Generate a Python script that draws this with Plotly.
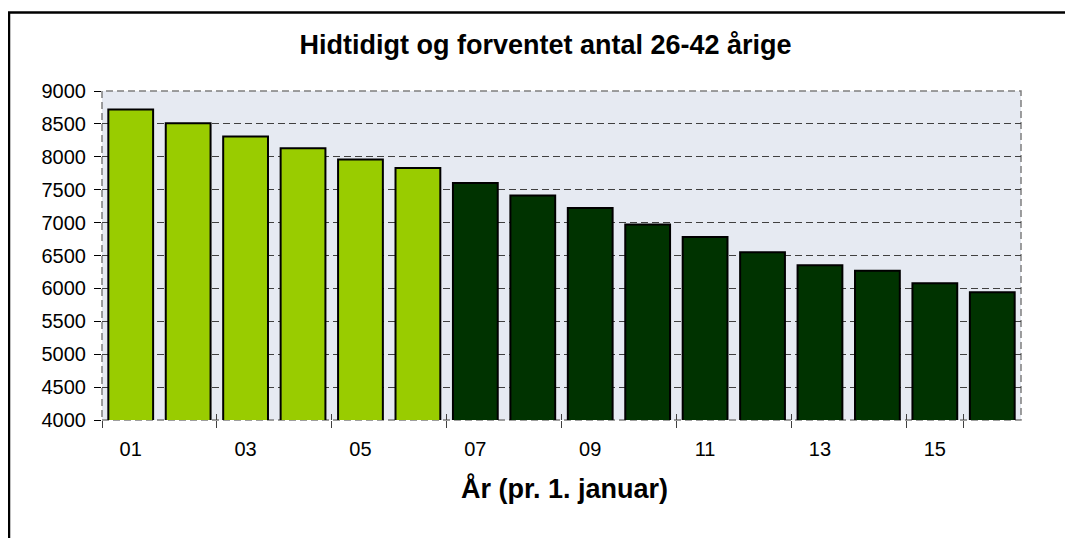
import plotly.graph_objects as go

years = ["01", "02", "03", "04", "05", "06", "07", "08",
         "09", "10", "11", "12", "13", "14", "15", "16"]
values = [8720, 8510, 8310, 8130, 7960, 7830, 7600, 7410,
          7220, 6970, 6780, 6550, 6350, 6270, 6080, 5940]
n_hist = 6  # historical years (01-06); the rest are forecasts

title = "Hidtidigt og forventet antal 26-42 årige"
x_title = "År (pr. 1. januar)"
y_ticks = list(range(4000, 9001, 500))
x_ticks = years[::2]

FONT = "Liberation Sans, Arial, sans-serif"

fig = go.Figure()
fig.add_trace(go.Bar(
    x=years[:n_hist], y=values[:n_hist], name="Hidtidigt",
    marker=dict(color="#99CC00", line=dict(color="#000000", width=2)),
))
fig.add_trace(go.Bar(
    x=years[n_hist:], y=values[n_hist:], name="Forventet",
    marker=dict(color="#003300", line=dict(color="#000000", width=2)),
))
# invisible helper trace so the overlay axis (inner half of crossing ticks) has categories
fig.add_trace(go.Scatter(
    x=years, y=values, xaxis="x2", mode="markers",
    marker=dict(opacity=0), hoverinfo="skip", showlegend=False,
))

# page body has an 8px margin, so the figure is 8px smaller than the window
W, H = 1065, 530
L, R, T, B = 94, 52, 83, 118
pw, ph = W - L - R, H - T - B

fig.update_layout(
    width=W, height=H,
    margin=dict(l=L, r=R, t=T, b=B, autoexpand=False),
    paper_bgcolor="white",
    plot_bgcolor="#E6EAF2",
    barmode="overlay",
    bargap=0.22,
    showlegend=False,
    font=dict(family=FONT, color="#000000"),
    title=dict(text="<b>" + title + "</b>", x=537.5 / W, xanchor="center",
               y=1 - 37 / H, yanchor="middle", yref="container",
               font=dict(size=27, family=FONT, color="#000000")),
)

fig.update_xaxes(
    type="category",
    categoryorder="array", categoryarray=years,
    tickmode="array", tickvals=x_ticks, ticktext=x_ticks,
    tickson="boundaries",
    ticks="outside", ticklen=7, tickwidth=1, tickcolor="#404040",
    ticklabelstandoff=15,
    tickfont=dict(size=20, family=FONT, color="#000000"),
    showgrid=False, showline=False, zeroline=False,
    range=[-0.5, len(years) - 0.5],
)
fig.update_layout(xaxis2=dict(
    type="category", overlaying="x", side="bottom",
    categoryorder="array", categoryarray=years,
    tickmode="array", tickvals=x_ticks, ticktext=[""] * len(x_ticks),
    tickson="boundaries",
    ticks="inside", ticklen=6, tickwidth=1, tickcolor="#404040",
    showgrid=False, showline=False, zeroline=False,
    range=[-0.5, len(years) - 0.5],
))
fig.update_yaxes(
    range=[4000, 9000],
    tickmode="array", tickvals=y_ticks,
    ticks="outside", ticklen=7, tickwidth=1, tickcolor="#000000",
    ticklabelstandoff=4,
    tickfont=dict(size=20, family=FONT, color="#000000"),
    showgrid=True, gridcolor="#404040", gridwidth=1, griddash="7px,4px",
    showline=False, zeroline=False,
)

# dashed plot-area border
fig.add_shape(type="rect", xref="paper", yref="paper", x0=0, x1=1, y0=0, y1=1,
              line=dict(color="#7F7F7F", width=1.5, dash="7px,4px"), layer="below")

# outer chart border (cropped on the right and bottom in the original image)
fig.add_shape(type="rect", xref="paper", yref="paper",
              x0=(1 - L) / pw, x1=(W + 20 - L) / pw,
              y0=(ph - (H + 20 - T)) / ph, y1=(ph - (4.5 - T)) / ph,
              line=dict(color="#000000", width=2.5), layer="above")

fig.add_annotation(text="<b>" + x_title + "</b>", xref="paper", yref="paper",
                   x=0.503, y=-(480 - T - ph) / ph, xanchor="center", yanchor="middle",
                   showarrow=False, font=dict(size=27, family=FONT, color="#000000"))

fig.write_html("out.html")
